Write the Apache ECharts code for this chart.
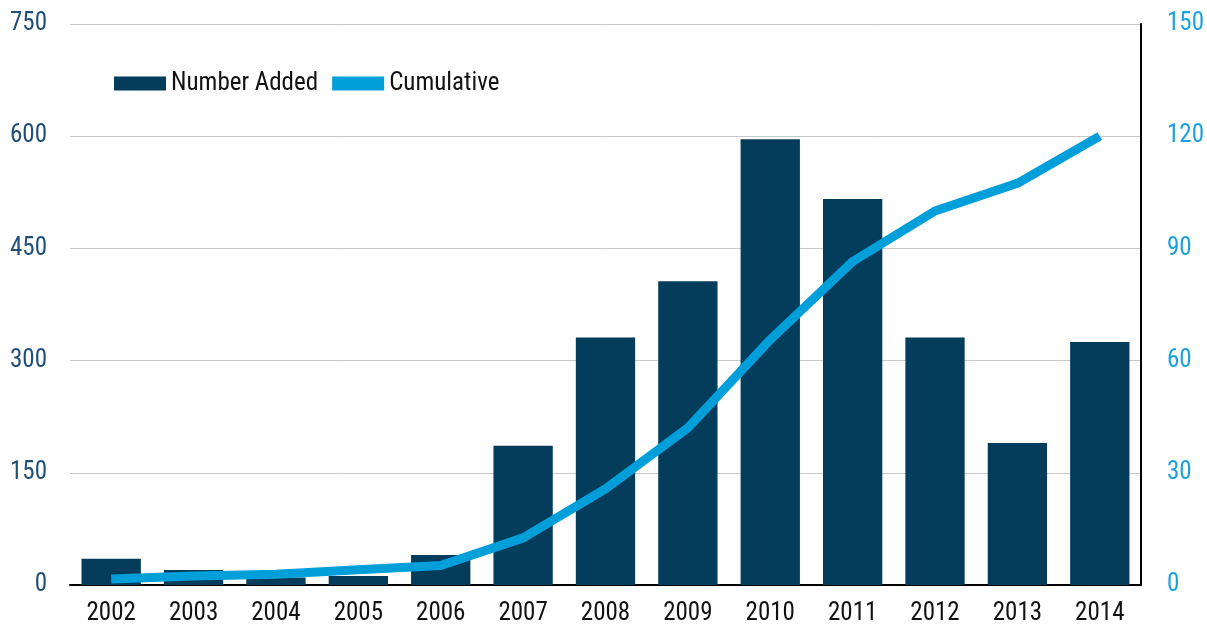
<!DOCTYPE html>
<html><head><meta charset="utf-8">
<script src="https://cdn.jsdelivr.net/npm/echarts@6/dist/echarts.min.js"></script>
<style>html,body{margin:0;padding:0;background:#fff}#c{width:1207px;height:631px}</style>
</head><body><div id="c"></div>
<script>
const years = ['2002','2003','2004','2005','2006','2007','2008','2009','2010','2011','2012','2013','2014'];
const numberAdded = [35, 20, 10, 12, 40, 186, 331, 406, 596, 516, 331, 190, 325];
const cumulative = [1.6, 2.4, 2.9, 4.1, 5.2, 12.6, 25.7, 42, 65.6, 86.5, 100, 107.4, 120];
const leftTicks = [0, 150, 300, 450, 600, 750];
const rightTicks = [0, 30, 60, 90, 120, 150];
const FONT = '"Liberation Sans Narrow", "Arial Narrow", "Roboto Condensed", "Liberation Sans", sans-serif';
const chart = echarts.init(document.getElementById('c'));
chart.setOption({
  animation: false,
  grid: {left: 70, right: 64, top: 24, bottom: 46},
  legend: {
    left: 109, top: 66, itemGap: 14, itemWidth: 52, itemHeight: 14,
    textStyle: {fontFamily: FONT, fontSize: 25, color: '#111'},
    data: [
      {name: 'Number Added', icon: 'rect'},
      {name: 'Cumulative', icon: 'rect', itemStyle: {color: '#009fda'}}
    ]
  },
  xAxis: {
    type: 'category', data: years,
    axisLine: {lineStyle: {color: '#000', width: 2}},
    axisTick: {show: false},
    axisLabel: {fontFamily: FONT, fontSize: 25, color: '#111', margin: 16}
  },
  yAxis: [
    {type: 'value', min: leftTicks[0], max: leftTicks[leftTicks.length-1], interval: 150,
     axisLine: {show: false}, axisTick: {show: false},
     splitLine: {lineStyle: {color: '#c8c8c8', width: 1}},
     axisLabel: {fontFamily: FONT, fontSize: 25, color: '#1f4e79', margin: 23}},
    {type: 'value', min: rightTicks[0], max: rightTicks[rightTicks.length-1], interval: 30,
     axisLine: {show: true, lineStyle: {color: '#000', width: 2}}, axisTick: {show: false},
     splitLine: {show: false},
     axisLabel: {fontFamily: FONT, fontSize: 25, color: '#1ba1e2', margin: 26}}
  ],
  series: [
    {name: 'Number Added', type: 'bar', data: numberAdded, yAxisIndex: 0,
     barCategoryGap: '28%', itemStyle: {color: '#043c5c'}},
    {name: 'Cumulative', type: 'line', data: cumulative, yAxisIndex: 1,
     symbol: 'none', lineStyle: {color: '#009fda', width: 9}, itemStyle: {color: '#009fda'}}
  ]
});
</script></body></html>
